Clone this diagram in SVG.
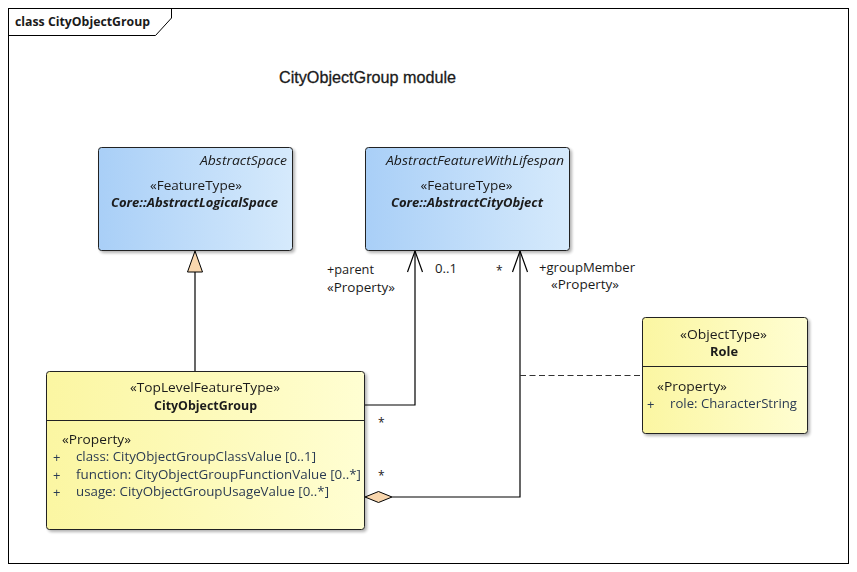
<svg xmlns="http://www.w3.org/2000/svg" width="857" height="572" viewBox="0 0 857 572">
<defs>
<linearGradient id="blue" x1="0" y1="0" x2="1" y2="0">
<stop offset="0" stop-color="#a9cff7"/>
<stop offset="1" stop-color="#d6eafc"/>
</linearGradient>
<linearGradient id="yellow" x1="0" y1="0" x2="1" y2="0">
<stop offset="0" stop-color="#fbf6a2"/>
<stop offset="1" stop-color="#fffed2"/>
</linearGradient>
<filter id="sh" x="-5%" y="-5%" width="115%" height="115%">
<feGaussianBlur in="SourceAlpha" stdDeviation="1.5"/>
<feOffset dx="2" dy="2"/>
<feComponentTransfer><feFuncA type="linear" slope="0.3"/></feComponentTransfer>
<feMerge><feMergeNode/><feMergeNode in="SourceGraphic"/></feMerge>
</filter>
</defs>
<style>
text{font-family:"Open Sans","Noto Sans",sans-serif;font-size:12px;fill:#1a1a1a}
.t{fill:#2b3b52}
.p{font-size:13px}
.b{font-weight:bold}
.i{font-style:italic}
.box{stroke:#222;stroke-width:1}
.c{text-anchor:middle}
.e{text-anchor:end}
.ln{fill:none;stroke:#000;stroke-width:1.2}
</style>
<rect x="0" y="0" width="857" height="572" fill="#fff"/>
<g id="frame">
<rect x="8.5" y="8.5" width="840" height="555" fill="none" stroke="#000" stroke-width="1"/>
<path d="M8.5 35.5 H155.5 L171.5 18 V8.5" fill="none" stroke="#000" stroke-width="1"/>
<text x="15" y="26" class="b" style="font-size:12.5px" textLength="135" lengthAdjust="spacingAndGlyphs">class CityObjectGroup</text>
</g>
<text x="279" y="83" style="font-family:'Liberation Sans',Arial,sans-serif;font-size:17px;stroke:#1a1a1a;stroke-width:0.3" textLength="177" lengthAdjust="spacingAndGlyphs">CityObjectGroup module</text>
<g id="connectors">
<line class="ln" x1="195" y1="272" x2="195" y2="371"/>
<polygon points="195,251 187.5,272 202.5,272" fill="#f9d7ae" stroke="#000" stroke-width="1"/>
<polyline class="ln" points="364,405 415,405 415,251"/>
<polyline class="ln" points="407.5,272 415,251 422.5,272"/>
<polyline class="ln" points="392,497 520,497 520,251"/>
<polyline class="ln" points="512.5,272 520,251 527.5,272"/>
<polygon points="365,497 378.5,491.5 392,497 378.5,502.5" fill="#f9d7ae" stroke="#000" stroke-width="1"/>
<line x1="520" y1="375.5" x2="642" y2="375.5" stroke="#333" stroke-width="1.2" stroke-dasharray="6,3.5"/>
<text x="327" y="274" textLength="47" lengthAdjust="spacingAndGlyphs">+parent</text>
<text x="327" y="292" textLength="68" lengthAdjust="spacingAndGlyphs">«Property»</text>
<text x="435" y="273" textLength="22" lengthAdjust="spacingAndGlyphs">0..1</text>
<text x="496" y="275">*</text>
<text x="539" y="272" textLength="96" lengthAdjust="spacingAndGlyphs">+groupMember</text>
<text x="551" y="289" textLength="68" lengthAdjust="spacingAndGlyphs">«Property»</text>
<text x="378" y="427">*</text>
<text x="378" y="480">*</text>
</g>
<g id="AbstractLogicalSpace" filter="url(#sh)">
<rect class="box" x="98.5" y="147.5" width="194" height="103" rx="3" fill="url(#blue)"/>
<text x="287" y="165" class="e i" textLength="87" lengthAdjust="spacingAndGlyphs">AbstractSpace</text>
<text x="196" y="190" class="c" textLength="92" lengthAdjust="spacingAndGlyphs">«FeatureType»</text>
<text x="194.5" y="207" class="c b i" textLength="167" lengthAdjust="spacingAndGlyphs">Core::AbstractLogicalSpace</text>
</g>
<g id="AbstractCityObject" filter="url(#sh)">
<rect class="box" x="365.5" y="147.5" width="204" height="103" rx="3" fill="url(#blue)"/>
<text x="564" y="165" class="e i" textLength="178" lengthAdjust="spacingAndGlyphs">AbstractFeatureWithLifespan</text>
<text x="466.5" y="190" class="c" textLength="92" lengthAdjust="spacingAndGlyphs">«FeatureType»</text>
<text x="467" y="207" class="c b i" textLength="152" lengthAdjust="spacingAndGlyphs">Core::AbstractCityObject</text>
</g>
<g id="CityObjectGroup" filter="url(#sh)">
<rect class="box" x="46.5" y="371.5" width="318" height="158" rx="3" fill="url(#yellow)"/>
<line x1="46.5" y1="420.5" x2="364.5" y2="420.5" stroke="#222"/>
<text x="205" y="392" class="c" textLength="150" lengthAdjust="spacingAndGlyphs">«TopLevelFeatureType»</text>
<text x="205.5" y="410" class="c b" textLength="103" lengthAdjust="spacingAndGlyphs">CityObjectGroup</text>
<text x="62" y="444" textLength="69" lengthAdjust="spacingAndGlyphs">«Property»</text>
<text x="53" y="462" class="t p">+</text>
<text x="76" y="461" class="t" textLength="240" lengthAdjust="spacingAndGlyphs">class: CityObjectGroupClassValue [0..1]</text>
<text x="53" y="480" class="t p">+</text>
<text x="76" y="479" class="t" textLength="285" lengthAdjust="spacingAndGlyphs">function: CityObjectGroupFunctionValue [0..*]</text>
<text x="53" y="497" class="t p">+</text>
<text x="76" y="496" class="t" textLength="253" lengthAdjust="spacingAndGlyphs">usage: CityObjectGroupUsageValue [0..*]</text>
</g>
<g id="Role" filter="url(#sh)">
<rect class="box" x="642.5" y="317.5" width="165" height="116" rx="3" fill="url(#yellow)"/>
<line x1="642.5" y1="366.5" x2="807.5" y2="366.5" stroke="#222"/>
<text x="723.5" y="339" class="c" textLength="87" lengthAdjust="spacingAndGlyphs">«ObjectType»</text>
<text x="724" y="356" class="c b" textLength="28" lengthAdjust="spacingAndGlyphs">Role</text>
<text x="657" y="391" textLength="70" lengthAdjust="spacingAndGlyphs">«Property»</text>
<text x="647" y="409" class="t p">+</text>
<text x="670" y="408" class="t" textLength="127" lengthAdjust="spacingAndGlyphs">role: CharacterString</text>
</g>
</svg>
